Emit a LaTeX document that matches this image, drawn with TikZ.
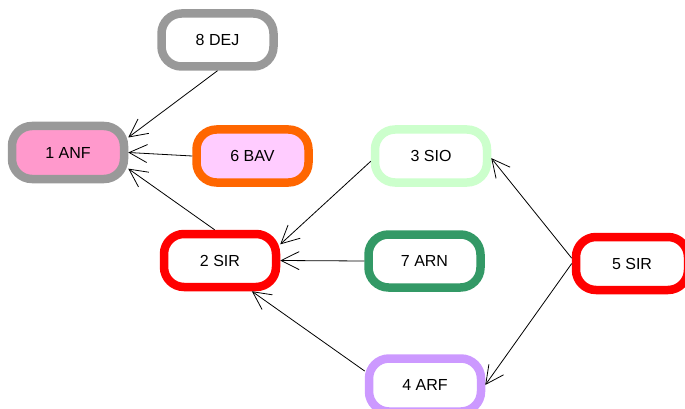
\documentclass[tikz,border=0pt]{standalone}
\usepackage{fontspec}
\setmainfont{Liberation Sans}
\usetikzlibrary{arrows.meta}
\definecolor{grisos}{HTML}{999999}
\definecolor{rosafort}{HTML}{FF99CC}
\definecolor{rosaclar}{HTML}{FFCCFF}
\definecolor{taronja}{HTML}{FF6600}
\definecolor{verdclar}{HTML}{CCFFCC}
\definecolor{verdfosc}{HTML}{339966}
\definecolor{lila}{HTML}{CC99FF}

\begin{document}
\begin{tikzpicture}[x=1pt, y=-1pt,
    caixa/.style={draw, line width=8.5pt, rounded corners=20pt, fill=white,
                  minimum width=112pt, minimum height=53pt, font=\fontsize{16}{19}\selectfont},
    fletxa/.style={line width=0.8pt, -{Straight Barb[length=18pt, width=18pt, line width=0.8pt]}}]
        \useasboundingbox (0,0) rectangle (685,409);
        % Caixes
        \node[caixa, draw=grisos] (dej) at (217.5,40) {8 DEJ};
        \node[caixa, draw=grisos, fill=rosafort] (anf) at (68,152.5) {1 ANF};
        \node[caixa, draw=taronja, fill=rosaclar] (bav) at (252.5,156) {6 BAV};
        \node[caixa, draw=verdclar] (sio) at (431,156) {3 SIO};
        \node[caixa, draw=red] (sir2) at (220,260.5) {2 SIR};
        \node[caixa, draw=verdfosc] (arn) at (424.5,261) {7 ARN};
        \node[caixa, draw=red] (sir5) at (632,263.5) {5 SIR};
        \node[caixa, draw=lila] (arf) at (425,385) {4 ARF};
        % Fletxes
        \draw[fletxa] (dej.south) -- (anf.14);
        \draw[fletxa] (bav.west) -- (anf.east);
        \draw[fletxa] (sir2.100) -- (anf.-15);
        \draw[fletxa] (sio.185) -- (sir2.15);
        \draw[fletxa] (arn.west) -- (sir2.east);
        \draw[fletxa] (arf.167) -- (sir2.-44);
        \draw[fletxa] (sir5.175) -- (sio.-2);
        \draw[fletxa] (sir5.west) -- (arf.east);
    \end{tikzpicture}
\end{document}
